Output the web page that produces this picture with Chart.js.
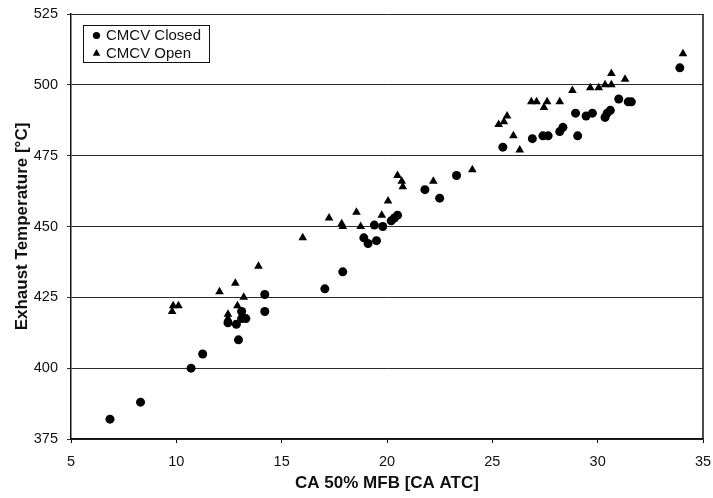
<!DOCTYPE html>
<html>
<head>
<meta charset="utf-8">
<title>Exhaust Temperature vs CA 50% MFB</title>
<script src="https://cdn.jsdelivr.net/npm/chart.js@4.4.1/dist/chart.umd.min.js"></script>
<style>
  html, body { margin: 0; padding: 0; background: #fff; }
  #wrap { width: 713px; height: 498px; position: relative; }
</style>
</head>
<body>
<div id="wrap"><canvas id="chart"></canvas></div>
<script>
// ---- data ----------------------------------------------------------
const xTicks = [5, 10, 15, 20, 25, 30, 35];
const yTicks = [375, 400, 425, 450, 475, 500, 525];

const seriesLabels = ['CMCV Closed', 'CMCV Open'];

// CMCV closed: CA 50% MFB [CA ATC] / exhaust temperature [°C]
const closedMfb  = [6.85, 8.3, 10.7, 11.25, 12.45, 12.85, 12.95, 13.1, 13.3, 13.1, 14.2, 14.2,
                    17.05, 17.9, 18.9, 19.1, 19.5, 19.4, 19.8, 20.2, 20.35, 20.5, 21.8, 22.5, 23.3,
                    25.5, 26.9, 27.4, 27.65, 28.2, 28.35, 29.05, 28.95, 29.45, 29.75, 30.35, 30.45, 30.6,
                    31.0, 31.45, 31.6, 33.9];
const closedTemp = [382, 388, 400, 405, 416, 415.5, 410, 417.5, 417.5, 420, 426, 420,
                    428, 434, 446, 444, 445, 450.5, 450, 452, 453, 454, 463, 460, 468,
                    478, 481, 482, 482, 483.5, 485, 482, 490, 489, 490, 488.5, 490, 491,
                    495, 494, 494, 506];

// CMCV open
const openMfb  = [9.8, 9.85, 10.1, 12.05, 12.8, 13.2, 12.9, 12.45, 12.45, 13.9, 16.0,
                  17.25, 17.85, 17.9, 18.55, 18.75, 19.75, 20.05, 20.5, 20.7, 20.75, 22.2, 24.05,
                  25.3, 25.55, 25.7, 26.0, 26.3, 26.85, 27.1, 27.45, 27.6, 28.2, 28.8,
                  29.65, 30.05, 30.35, 30.65, 30.65, 31.3, 34.05];
const openTemp = [420, 422, 422, 427, 430, 425, 422, 419, 417.5, 436, 446,
                  453, 451, 450, 455, 450, 454, 459, 468, 466, 464, 466, 470,
                  486, 487, 489, 482, 477, 494, 494, 492, 494, 494, 498,
                  499, 499, 500, 500, 504, 502, 511];

const toPoints = (xs, ys) => xs.map((x, i) => ({ x, y: ys[i] }));

// ---- styling -------------------------------------------------------
const FONT = '"Liberation Sans", Arial, Helvetica, sans-serif';
const INK = '#111';

// boxed legend in the upper left of the plot + closing frame line on the right
const boxLegend = {
  id: 'boxLegend',
  afterDraw(chart) {
    const ctx = chart.ctx;
    const a = chart.chartArea;
    ctx.save();
    ctx.strokeStyle = INK;
    ctx.lineWidth = 1.5;
    ctx.beginPath();
    ctx.moveTo(a.right, a.top);
    ctx.lineTo(a.right, a.bottom);
    ctx.stroke();

    const x0 = Math.round(a.left + 12) + 0.5;
    const y0 = Math.round(a.top + 11) + 0.5;
    const w = 126, h = 37;
    ctx.fillStyle = '#fff';
    ctx.fillRect(x0, y0, w, h);
    ctx.lineWidth = 1;
    ctx.strokeRect(x0, y0, w, h);

    ctx.font = '15px ' + FONT;
    ctx.textBaseline = 'middle';
    ctx.textAlign = 'left';
    chart.data.datasets.forEach((ds, i) => {
      const cy = y0 + 10 + i * 18;
      ctx.fillStyle = '#000';
      Chart.helpers.drawPoint(ctx, {
        pointStyle: ds.pointStyle,
        radius: ds.pointStyle === 'circle' ? 3.6 : 4.4,
        rotation: 0,
        borderWidth: 0
      }, x0 + 13, cy);
      ctx.fillStyle = INK;
      ctx.fillText(ds.label, x0 + 22.5, cy + 0.5);
    });
    ctx.restore();
  }
};

new Chart(document.getElementById('chart'), {
  type: 'scatter',
  data: {
    datasets: [
      {
        label: seriesLabels[0],
        data: toPoints(closedMfb, closedTemp),
        pointStyle: 'circle',
        pointRadius: 4.5,
        pointBorderWidth: 0,
        backgroundColor: '#000',
        borderColor: '#000'
      },
      {
        label: seriesLabels[1],
        data: toPoints(openMfb, openTemp),
        pointStyle: 'triangle',
        pointRadius: 5,
        pointBorderWidth: 0,
        backgroundColor: '#000',
        borderColor: '#000'
      }
    ]
  },
  options: {
    responsive: true,
    maintainAspectRatio: false,
    animation: false,
    layout: { padding: { top: 14, right: 10, left: 0, bottom: 0 } },
    plugins: {
      legend: { display: false },
      tooltip: { enabled: false }
    },
    scales: {
      x: {
        type: 'linear',
        min: xTicks[0],
        max: xTicks[xTicks.length - 1],
        afterBuildTicks: s => { s.ticks = xTicks.map(v => ({ value: v })); },
        afterFit: s => { s.height = 59; s.paddingLeft = 0; s.paddingRight = 0; },
        ticks: {
          color: INK,
          font: { family: FONT, size: 14.5 },
          padding: 10,
          maxRotation: 0
        },
        grid: { drawOnChartArea: false, drawTicks: true, tickLength: 4, color: INK, lineWidth: 1 },
        border: { color: INK, width: 1.5 },
        title: {
          display: true,
          text: 'CA 50% MFB [CA ATC]',
          color: INK,
          font: { family: FONT, size: 17, weight: 'bold' },
          padding: { top: 0, bottom: 4 }
        }
      },
      y: {
        type: 'linear',
        min: yTicks[0],
        max: yTicks[yTicks.length - 1],
        afterBuildTicks: s => { s.ticks = yTicks.map(v => ({ value: v })); },
        afterFit: s => { s.width = 71; s.paddingTop = 0; s.paddingBottom = 0; },
        ticks: {
          color: INK,
          font: { family: FONT, size: 14.5 },
          padding: 9
        },
        grid: { color: '#2a2a2a', lineWidth: 1, tickLength: 4 },
        border: { color: INK, width: 1.5 },
        title: {
          display: true,
          text: 'Exhaust Temperature [°C]',
          color: INK,
          font: { family: FONT, size: 17, weight: 'bold' },
          padding: { top: 12, bottom: 0 }
        }
      }
    }
  },
  plugins: [boxLegend]
});
</script>
</body>
</html>
